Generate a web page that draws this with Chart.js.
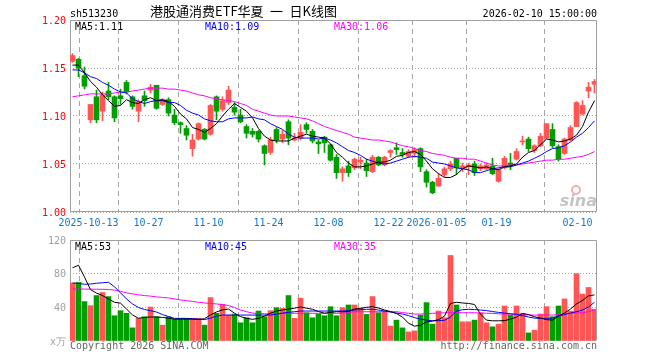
<!DOCTYPE html>
<html>
<head>
<meta charset="utf-8">
<script src="https://cdn.jsdelivr.net/npm/chart.js@4.4.1/dist/chart.umd.min.js"></script>
<style>
  body { margin: 0; background: #fff; }
  #wrap { position: relative; width: 660px; height: 360px; overflow: hidden; }
  canvas { position: absolute; left: 0; }
</style>
</head>
<body>
<div id="wrap">
  <canvas id="kline" width="660" height="232" style="top:0"></canvas>
  <canvas id="vol" width="660" height="130" style="top:230px"></canvas>
</div>
<script>
(function(){
  // tick labels and the candle index each one belongs to
  const dateLabels = ['2025-10-13','10-27','11-10','11-24','12-08','12-22','2026-01-05','01-19','02-10'];
  const dateIdx = [3, 13, 23, 33, 43, 53, 61, 71, 87];
  const priceTicks = [1.00, 1.05, 1.10, 1.15, 1.20];
  const volTicks = [0, 40, 80, 120];

  // daily OHLC
  const open = [
    1.157,1.159,1.142,1.096,1.120,1.105,1.126,1.120,1.121,1.135,
    1.120,1.105,1.121,1.127,1.132,1.112,1.117,1.101,1.093,1.087,
    1.066,1.076,1.086,1.081,1.120,1.107,1.114,1.109,1.101,1.089,
    1.084,1.084,1.069,1.062,1.086,1.076,1.094,1.075,1.077,1.091,
    1.084,1.073,1.078,1.070,1.057,1.041,1.048,1.046,1.052,1.051,
    1.042,1.057,1.049,1.062,1.067,1.062,1.058,1.061,1.066,1.042,
    1.031,1.027,1.039,1.045,1.056,1.045,1.047,1.050,1.045,1.045,
    1.048,1.032,1.046,1.051,1.055,1.073,1.076,1.064,1.069,1.077,
    1.086,1.068,1.061,1.075,1.089,1.102,1.126,1.133];
  const high = [
    1.165,1.160,1.151,1.112,1.127,1.125,1.135,1.121,1.128,1.137,
    1.121,1.117,1.126,1.133,1.132,1.118,1.119,1.107,1.094,1.090,
    1.081,1.093,1.087,1.112,1.121,1.120,1.131,1.114,1.107,1.091,
    1.087,1.085,1.070,1.078,1.088,1.085,1.096,1.082,1.091,1.093,
    1.086,1.075,1.079,1.071,1.060,1.047,1.053,1.056,1.057,1.055,
    1.059,1.058,1.058,1.065,1.072,1.066,1.065,1.067,1.067,1.044,
    1.032,1.040,1.047,1.053,1.056,1.051,1.051,1.053,1.050,1.051,
    1.056,1.045,1.058,1.061,1.066,1.079,1.078,1.070,1.082,1.092,
    1.092,1.070,1.077,1.090,1.115,1.116,1.135,1.138];
  const low = [
    1.156,1.141,1.128,1.093,1.093,1.095,1.117,1.094,1.112,1.123,
    1.107,1.094,1.110,1.124,1.107,1.111,1.100,1.091,1.082,1.075,
    1.058,1.075,1.075,1.080,1.096,1.105,1.112,1.101,1.093,1.077,
    1.078,1.073,1.049,1.060,1.072,1.072,1.070,1.074,1.075,1.082,
    1.072,1.061,1.062,1.053,1.035,1.032,1.037,1.044,1.045,1.037,
    1.041,1.048,1.048,1.057,1.060,1.057,1.057,1.057,1.042,1.026,
    1.019,1.027,1.037,1.043,1.039,1.042,1.039,1.038,1.043,1.044,
    1.039,1.031,1.045,1.044,1.054,1.070,1.063,1.062,1.068,1.076,
    1.067,1.053,1.060,1.074,1.089,1.101,1.119,1.124];
  const close = [
    1.163,1.150,1.131,1.112,1.096,1.122,1.120,1.098,1.118,1.125,
    1.110,1.115,1.116,1.130,1.108,1.117,1.103,1.093,1.091,1.080,
    1.075,1.092,1.076,1.111,1.105,1.116,1.127,1.104,1.094,1.082,
    1.081,1.076,1.061,1.075,1.075,1.081,1.077,1.077,1.083,1.086,
    1.074,1.071,1.072,1.054,1.041,1.045,1.041,1.055,1.054,1.043,
    1.057,1.049,1.057,1.064,1.065,1.060,1.063,1.065,1.047,1.031,
    1.020,1.035,1.045,1.050,1.046,1.048,1.049,1.041,1.048,1.049,
    1.040,1.044,1.056,1.049,1.063,1.074,1.066,1.069,1.079,1.092,
    1.069,1.055,1.076,1.088,1.114,1.111,1.130,1.136];

  // moving averages as drawn
  const ma5 = [
    1.153,1.153,1.145,1.136,1.130,1.122,1.116,1.110,1.111,1.117,
    1.114,1.113,1.117,1.119,1.116,1.117,1.115,1.110,1.102,1.097,
    1.088,1.086,1.083,1.087,1.092,1.100,1.107,1.113,1.109,1.105,
    1.098,1.087,1.079,1.075,1.074,1.074,1.074,1.077,1.079,1.081,
    1.079,1.078,1.077,1.071,1.062,1.057,1.051,1.047,1.047,1.048,
    1.050,1.052,1.052,1.054,1.058,1.059,1.062,1.063,1.060,1.053,
    1.045,1.040,1.036,1.036,1.039,1.045,1.048,1.047,1.046,1.047,
    1.045,1.044,1.047,1.048,1.050,1.057,1.062,1.064,1.070,1.076,
    1.075,1.073,1.074,1.076,1.080,1.089,1.104,1.116];
  const ma10 = [
    1.148,1.148,1.145,1.141,1.139,1.135,1.132,1.128,1.125,1.124,
    1.118,1.115,1.113,1.115,1.116,1.116,1.114,1.114,1.111,1.106,
    1.103,1.101,1.097,1.095,1.094,1.094,1.097,1.098,1.098,1.098,
    1.099,1.097,1.096,1.092,1.089,1.086,1.081,1.078,1.077,1.077,
    1.077,1.076,1.077,1.075,1.072,1.068,1.064,1.062,1.059,1.055,
    1.053,1.051,1.050,1.051,1.053,1.055,1.057,1.058,1.057,1.056,
    1.052,1.051,1.050,1.048,1.046,1.045,1.044,1.041,1.041,1.043,
    1.045,1.046,1.047,1.047,1.049,1.051,1.053,1.056,1.059,1.063,
    1.066,1.067,1.069,1.073,1.078,1.082,1.088,1.095];
  const ma30 = [
    1.120,1.121,1.122,1.123,1.123,1.123,1.123,1.124,1.125,1.125,
    1.126,1.127,1.128,1.129,1.129,1.129,1.128,1.128,1.127,1.126,
    1.124,1.122,1.121,1.119,1.118,1.117,1.116,1.115,1.113,1.111,
    1.107,1.105,1.103,1.101,1.100,1.100,1.100,1.099,1.098,1.097,
    1.095,1.092,1.089,1.087,1.085,1.083,1.081,1.078,1.077,1.076,
    1.075,1.075,1.074,1.073,1.071,1.069,1.068,1.066,1.064,1.063,
    1.061,1.060,1.059,1.057,1.056,1.056,1.055,1.055,1.053,1.051,
    1.049,1.048,1.048,1.049,1.049,1.050,1.051,1.052,1.053,1.054,
    1.054,1.055,1.055,1.056,1.057,1.058,1.060,1.063];

  // volume (x万) and its averages
  const volume = [
    68.9,69.6,46.8,42.0,54.0,57.6,52.8,30.0,36.0,32.9,
    15.6,26.9,28.8,40.4,28.8,18.8,28.8,26.0,26.9,26.9,
    26.9,26.9,18.8,51.6,32.9,43.7,30.8,32.0,21.6,27.6,
    21.6,35.6,28.8,36.0,39.6,38.9,54.0,26.9,50.9,33.6,
    27.6,32.0,30.0,40.8,30.0,39.6,42.8,42.8,38.9,31.6,
    52.8,33.6,35.6,17.6,24.8,15.6,10.8,12.0,30.8,45.6,
    20.0,35.6,27.6,101.6,42.8,22.8,22.8,24.8,33.6,21.6,
    16.8,20.0,41.6,30.8,41.6,32.9,9.6,12.8,32.0,40.8,
    28.8,41.6,50.0,35.6,80.0,55.7,63.6,37.7];
  const vma5 = [
    87,90,76,61,57,54,50,46,45,38,
    31,27,28,28.5,28.5,28,27,26,26,26,
    26,25.5,26.5,31,34.5,37,38,33,29,27,
    25.7,27,29.6,33,35.6,36.8,38,39,40.4,39,
    37.7,35,33,34,34.8,34.8,35,38,38.9,40,
    40.8,39.2,36.8,35,32.6,28.4,21.2,17.6,18.8,22.8,
    23.6,25.4,29.6,44.6,46,45.2,44.6,43.4,32,24.8,
    24,24,24.2,26,28.4,32.6,31.4,28.8,27.2,25.4,
    24.8,29.6,33.2,38,44,48.2,53.6,54.8];
  const vma10 = [
    68.9,68.3,67.4,67.7,68.6,69.2,69.8,64.4,57.2,50,
    44,39.8,37.4,36,34.4,31.4,29,26.9,26.9,26.9,
    26.6,26,25.4,27.2,29.6,30.8,30.8,30.8,30.8,30.8,
    30.8,30.8,30.8,30.8,32,33.2,34,34.8,35.6,35.6,
    35.6,35.6,35.6,35.6,35.6,35.6,36.2,36.8,37.2,37.7,
    37.7,36.8,35.6,34.4,33.2,32,30.2,27.8,26,24.8,
    24,24.2,24.6,28.4,35.6,37.2,37.7,37.4,36.8,36.2,
    35,34,33.2,32.4,31.7,30.2,28.4,27.2,26.9,26.9,
    27.2,29.6,31.4,33.2,34.8,36.8,40.4,46];
  const vma30 = [
    61.7,61.7,61.7,61.6,61.5,61.4,61.2,60.5,59,57.2,
    56,54.8,54,53.3,52.4,51.8,51.2,50,48.8,48,
    47,46,45.2,44.6,44,43.2,42.2,39.8,36.8,34.8,
    33.2,32.6,32.4,32.3,32.4,32.6,32.9,32.9,32.9,32.9,
    32.9,32.9,32.9,32.9,32.9,33.2,33.8,34.8,34.8,34.8,
    34.8,34.8,34.8,34.8,34.8,33.8,32.9,32,32,32.4,
    32.9,33.2,33.5,33.6,33.6,33.6,33.6,33.6,33.2,33,
    32.8,32.4,32,32,31.7,31.3,30.8,30.8,30.8,30.8,
    30.8,31.2,32,32.9,33.2,33.6,35,36.8];

  const UP = '#ff5555', DOWN = '#009e00';
  const GRID = '#a8a8a8', FRAME = '#a0a0a0';
  const mono = '"DejaVu Sans Mono", monospace';
  const idx = close.map((c, i) => i);
  const barColor = idx.map(i => close[i] >= open[i] ? UP : DOWN);
  const xMin = -5 / 12, xMax = 87.25;
  const gridX = [xMin].concat(dateIdx.map(i => i - 1 / 3));

  const pts = arr => idx.map(i => ({ x: i, y: arr[i] }));
  const maLine = (arr, color) => ({ type: 'line', data: pts(arr), borderColor: color, borderWidth: 1, pointRadius: 0, tension: 0, fill: false });

  function textPlugin(id, items){
    return { id: id, afterDraw(chart){
      const c = chart.ctx; c.save();
      items.forEach(t => {
        c.font = t.font || ('10px ' + mono);
        c.fillStyle = t.color || '#000';
        c.textAlign = t.align || 'left';
        c.textBaseline = 'alphabetic';
        c.fillText(t.text, t.x, t.y);
      });
      c.restore();
    } };
  }
  function framePlugin(id, withBottom){
    return { id: id, beforeDatasetsDraw(chart){
      const a = chart.chartArea, c = chart.ctx;
      const l = a.left + 0.5, r = a.right + 0.5, t = a.top + 0.5, b = a.bottom - 0.5;
      c.save(); c.strokeStyle = FRAME; c.lineWidth = 1; c.beginPath();
      c.moveTo(l, b); c.lineTo(l, t); c.lineTo(r, t); c.lineTo(r, b);
      if(withBottom) c.lineTo(l, b);
      c.stroke(); c.restore();
    } };
  }
  const logoPlugin = { id: 'logo', afterDraw(chart){
    const c = chart.ctx; c.save();
    c.strokeStyle = '#f2b0b0'; c.lineWidth = 2;
    c.beginPath(); c.arc(576, 190, 4, 0, Math.PI * 2); c.stroke();
    c.font = 'italic bold 16px "DejaVu Sans", sans-serif';
    c.fillStyle = '#c4c4c4'; c.textAlign = 'right';
    c.fillText('sina', 597, 206);
    c.restore();
  } };

  const xAxis = (showLabels, h) => ({
    type: 'linear', min: xMin, max: xMax, offset: false,
    afterBuildTicks: s => { s.ticks = gridX.map(v => ({ value: v })); },
    afterFit: s => { s.height = h; },
    grid: { color: GRID, lineWidth: 1, drawTicks: false },
    border: { display: false, dash: [5, 4] },
    ticks: { display: showLabels, autoSkip: false, maxRotation: 0, padding: 5, align: 'inner',
      color: '#1478c8', font: { family: mono, size: 10 },
      callback: (v, i) => i === 0 ? '' : dateLabels[i - 1] }
  });

  new Chart(document.getElementById('kline'), {
    type: 'bar',
    data: { datasets: [
      maLine(ma5, '#000000'),
      maLine(ma10, '#0000ff'),
      maLine(ma30, '#ff00ff'),
      { type: 'bar', data: idx.map(i => ({ x: i, y: [open[i], close[i]] })), backgroundColor: barColor, barThickness: 5, minBarLength: 1, grouped: false, borderWidth: 0 },
      { type: 'bar', data: idx.map(i => ({ x: i, y: [low[i], high[i]] })), backgroundColor: barColor, barThickness: 1, minBarLength: 1, grouped: false, borderWidth: 0 }
    ] },
    options: {
      responsive: false, animation: false, events: [],
      layout: { padding: { left: 0, top: 20, right: 64, bottom: 0 } },
      plugins: { legend: { display: false }, tooltip: { enabled: false } },
      scales: {
        x: xAxis(true, 20),
        y: {
          min: 1.0, max: 1.2,
          afterBuildTicks: s => { s.ticks = priceTicks.map(v => ({ value: v })); },
          afterFit: s => { s.width = 70; },
          grid: { color: GRID, drawTicks: false },
          border: { display: false, dash: [1, 2] },
          ticks: { color: '#ff0000', padding: 4, labelOffset: 1, font: { family: mono, size: 10 }, callback: v => v.toFixed(2) }
        }
      }
    },
    plugins: [framePlugin('frameK', true), logoPlugin, textPlugin('textK', [
      { text: 'sh513230', x: 70, y: 17 },
      { text: '港股通消费ETF华夏\u2002一\u2002日K线图', x: 150, y: 16, font: '13px "Noto Sans CJK SC", sans-serif' },
      { text: '2026-02-10 15:00:00', x: 597, y: 17, align: 'right' },
      { text: 'MA5:1.11', x: 75, y: 30 },
      { text: 'MA10:1.09', x: 205, y: 30, color: '#0000ff' },
      { text: 'MA30:1.06', x: 334, y: 30, color: '#ff00ff' }
    ])]
  });

  new Chart(document.getElementById('vol'), {
    type: 'bar',
    data: { datasets: [
      maLine(vma5, '#000000'),
      maLine(vma10, '#0000ff'),
      maLine(vma30, '#ff00ff'),
      { type: 'bar', data: pts(volume), backgroundColor: barColor, barThickness: 5, grouped: false, borderWidth: 0 }
    ] },
    options: {
      responsive: false, animation: false, events: [],
      layout: { padding: { left: 0, top: 10, right: 64, bottom: 19 } },
      plugins: { legend: { display: false }, tooltip: { enabled: false } },
      scales: {
        x: xAxis(false, 0),
        y: {
          min: 0, max: 120,
          afterBuildTicks: s => { s.ticks = volTicks.map(v => ({ value: v })); },
          afterFit: s => { s.width = 70; },
          grid: { color: c => (c.tick && c.tick.value === 0) ? 'rgba(0,0,0,0)' : GRID, drawTicks: false },
          border: { display: false, dash: [1, 2] },
          ticks: { color: '#a0a0a0', padding: 4, labelOffset: 1, font: { family: mono, size: 10 }, callback: v => v === 0 ? 'x万' : String(v) }
        }
      }
    },
    plugins: [framePlugin('frameV', false), textPlugin('textV', [
      { text: 'MA5:53', x: 75, y: 20 },
      { text: 'MA10:45', x: 205, y: 20, color: '#0000ff' },
      { text: 'MA30:35', x: 334, y: 20, color: '#ff00ff' },
      { text: 'Copyright 2026 SINA.COM', x: 70, y: 119, color: '#666666' },
      { text: 'http://finance.sina.com.cn', x: 597, y: 119, color: '#666666', align: 'right' }
    ])]
  });
})();
</script>
</body>
</html>
